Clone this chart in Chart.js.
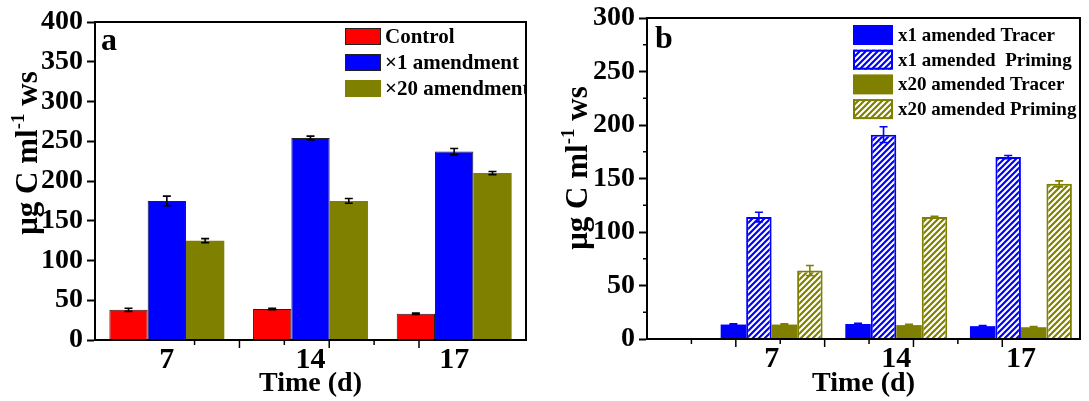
<!DOCTYPE html>
<html>
<head>
<meta charset="utf-8">
<script src="https://cdn.jsdelivr.net/npm/chart.js@4.4.1/dist/chart.umd.min.js"></script>
<style>
  html, body { margin: 0; padding: 0; background: #fff; }
  #wrap { position: relative; width: 1089px; height: 401px; overflow: hidden; background: #fff; }
  #chartA { position: absolute; left: 0; top: 0; }
  #chartB { position: absolute; left: 545px; top: 0; }
</style>
</head>
<body>
<div id="wrap">
  <canvas id="chartA" width="545" height="401"></canvas>
  <canvas id="chartB" width="544" height="401"></canvas>
</div>
<script>
// 时间点 (d)
const days = ['7', '14', '17'];

// 图 a：三组处理
const seriesA = ['Control', '×1 amendment', '×20 amendment'];
const controlVals = [38, 39, 33];
const controlErr = [2, 1, 1];
const x1Vals = [175, 254, 237];
const x1Err = [6, 2.5, 3.8];
const x20Vals = [125, 175, 210];
const x20Err = [2.5, 3, 2];
const yRangeA = [0, 400, 50];

// 图 b：Tracer / Priming
const seriesB = ['x1 amended Tracer', 'x1 amended  Priming', 'x20 amended Tracer', 'x20 amended Priming'];
const x1TracerVals = [13.5, 14, 12];
const x1TracerErr = [0.8, 0.6, 0.6];
const x1PrimingVals = [114, 191, 170];
const x1PrimingErr = [4.5, 7.3, 1.5];
const x20TracerVals = [13.5, 13, 11];
const x20TracerErr = [0.8, 0.8, 0.6];
const x20PrimingVals = [64, 114, 145];
const x20PrimingErr = [4.7, 0.6, 2.8];
const yRangeB = [0, 300, 50];

const RED = '#ff0000';
const BLUE = '#0000ff';
const OLIVE = '#808000';
const FONT = '"Liberation Serif", "Times New Roman", serif';

Chart.defaults.font.family = FONT;
Chart.defaults.font.weight = 'bold';
Chart.defaults.color = '#000';

// 斜线填充
function hatch(color) {
  const c = document.createElement('canvas');
  c.width = c.height = 6;
  const g = c.getContext('2d');
  g.fillStyle = '#fff';
  g.fillRect(0, 0, 6, 6);
  g.strokeStyle = color;
  g.lineWidth = 2.2;
  g.beginPath();
  g.moveTo(0, 6); g.lineTo(6, 0);
  g.moveTo(-3, 3); g.lineTo(3, -3);
  g.moveTo(3, 9); g.lineTo(9, 3);
  g.stroke();
  return g.createPattern(c, 'repeat');
}

// 误差线
const errorBars = {
  id: 'errorBars',
  afterDatasetsDraw(chart) {
    const ctx = chart.ctx;
    const y = chart.scales.y;
    chart.data.datasets.forEach((ds, i) => {
      if (!ds.errors) return;
      const meta = chart.getDatasetMeta(i);
      ctx.save();
      ctx.strokeStyle = ds.errorColor;
      ctx.lineWidth = 1.6;
      meta.data.forEach((bar, j) => {
        const v = meta.controller.getParsed(j).y;
        const e = ds.errors[j];
        const top = y.getPixelForValue(v + e);
        const bot = y.getPixelForValue(v - e);
        ctx.beginPath();
        ctx.moveTo(bar.x, top); ctx.lineTo(bar.x, bot);
        ctx.moveTo(bar.x - 4, top); ctx.lineTo(bar.x + 4, top);
        ctx.moveTo(bar.x - 4, bot); ctx.lineTo(bar.x + 4, bot);
        ctx.stroke();
      });
      ctx.restore();
    });
  }
};

// 图例 + 面板字母 + y 轴标题
const boxLegend = {
  id: 'boxLegend',
  afterDraw(chart, args, o) {
    const ctx = chart.ctx;
    const a = chart.chartArea;
    ctx.save();
    ctx.beginPath();
    ctx.rect(a.left, a.top, a.right - a.left, a.bottom - a.top);
    ctx.clip();
    ctx.font = 'bold ' + o.fontSize + 'px ' + FONT;
    ctx.textBaseline = 'middle';
    ctx.textAlign = 'left';
    chart.data.datasets.forEach((ds, i) => {
      const y = o.top + i * o.gap;
      ctx.fillStyle = ds.backgroundColor;
      ctx.fillRect(o.left, y, o.boxW, o.boxH);
      if (ds.borderWidth) {
        ctx.lineWidth = ds.borderWidth;
        ctx.strokeStyle = ds.borderColor;
        ctx.strokeRect(o.left + ds.borderWidth / 2, y + ds.borderWidth / 2, o.boxW - ds.borderWidth, o.boxH - ds.borderWidth);
      }
      ctx.fillStyle = '#000';
      ctx.fillText(ds.label, o.left + o.boxW + o.textGap, y + o.boxH / 2 + 1);
    });
    ctx.font = 'bold 32px ' + FONT;
    ctx.textBaseline = 'alphabetic';
    ctx.fillText(o.letter, o.letterX, o.letterY);
    ctx.restore();

    // μg C ml⁻¹ ws
    ctx.save();
    ctx.fillStyle = '#000';
    ctx.translate(o.titleX, o.titleY);
    ctx.rotate(-Math.PI / 2);
    const big = 'bold 31px ' + FONT, small = 'bold 19px ' + FONT;
    ctx.font = big;
    const w1 = ctx.measureText('μg C ml').width;
    const w3 = ctx.measureText(' ws').width;
    ctx.font = small;
    const w2 = ctx.measureText('-1').width;
    let x = -(w1 + w2 + w3) / 2;
    ctx.font = big; ctx.fillText('μg C ml', x, 0); x += w1;
    ctx.font = small; ctx.fillText('-1', x, -13); x += w2;
    ctx.font = big; ctx.fillText(' ws', x, 0);
    ctx.restore();
  }
};

// 边框和刻度
const frame = {
  id: 'frame',
  afterDraw(chart, args, o) {
    const { ctx, chartArea: a, scales } = chart;
    ctx.save();
    ctx.strokeStyle = '#000';
    ctx.lineWidth = 1.5;
    const xt = scales.xt;
    xt.ticks.forEach(t => {
      if (Math.abs(t.value - Math.round(t.value)) > 1e-6) return;
      const px = xt.getPixelForValue(t.value);
      if (px < a.left + 2 || px > a.right - 2) return;
      const len = Math.round(t.value) % 2 === 0 ? 8 : 5;
      ctx.beginPath();
      ctx.moveTo(px, a.bottom);
      ctx.lineTo(px, a.bottom + len);
      ctx.stroke();
    });
    if (o.minorY) {
      const y = scales.y;
      y.ticks.forEach((t, i) => {
        if (i === 0) return;
        const py = y.getPixelForValue((t.value + y.ticks[i - 1].value) / 2);
        ctx.beginPath();
        ctx.moveTo(a.left - 4, py);
        ctx.lineTo(a.left, py);
        ctx.stroke();
      });
    }
    ctx.lineWidth = 2;
    ctx.strokeRect(a.left, a.top, a.right - a.left, a.bottom - a.top);
    ctx.restore();
  }
};

function yAxis(range, width) {
  return {
    min: range[0], max: range[1],
    ticks: { stepSize: range[2], font: { size: 28, weight: 'bold', lineHeight: 1 }, padding: 4, color: '#000' },
    grid: { drawOnChartArea: false, tickLength: 8, tickColor: '#000', tickWidth: 2 },
    border: { color: '#000', width: 2 },
    afterFit: s => { s.width = width; }
  };
}

function xTitle() {
  return { display: true, text: 'Time (d)', font: { size: 28, weight: 'bold' }, color: '#000', padding: { top: 0, bottom: 0 } };
}

const xTickFont = { size: 30, weight: 'bold', lineHeight: 1.1 };

const common = {
  responsive: false,
  animation: false,
  devicePixelRatio: 1,
  events: []
};

// 图 a
new Chart(document.getElementById('chartA'), {
  type: 'bar',
  data: {
    labels: days,
    datasets: [
      { label: seriesA[0], data: controlVals, errors: controlErr, errorColor: '#000', backgroundColor: RED, borderColor: '#222', borderWidth: 1 },
      { label: seriesA[1], data: x1Vals, errors: x1Err, errorColor: '#000', backgroundColor: BLUE, borderColor: '#222', borderWidth: 1 },
      { label: seriesA[2], data: x20Vals, errors: x20Err, errorColor: '#000', backgroundColor: OLIVE, borderColor: OLIVE, borderWidth: 0 }
    ]
  },
  options: {
    ...common,
    layout: { padding: { top: 22, right: 19, left: 0, bottom: 0 } },
    datasets: { bar: { categoryPercentage: 0.8, barPercentage: 1.0 } },
    plugins: {
      legend: { display: false },
      tooltip: { enabled: false },
      boxLegend: { left: 345, top: 28, gap: 26, boxW: 36, boxH: 17, textGap: 4, fontSize: 21, letter: 'a', letterX: 101, letterY: 50, titleX: 37, titleY: 153 },
      frame: { minorY: false }
    },
    scales: {
      x: {
        offset: true,
        grid: { display: false, drawTicks: false },
        border: { color: '#000', width: 2 },
        ticks: { font: xTickFont, padding: 4, color: '#000' },
        title: xTitle(),
        afterFit: s => { s.height = 61; }
      },
      xt: { type: 'linear', display: false, min: -0.618, max: 7.784, ticks: { stepSize: 1 } },
      y: yAxis(yRangeA, 95)
    }
  },
  plugins: [errorBars, boxLegend, frame]
});

// 图 b
const xy = vals => vals.map((v, i) => ({ x: i + 1, y: v }));

new Chart(document.getElementById('chartB'), {
  type: 'bar',
  data: {
    datasets: [
      { label: seriesB[0], data: xy(x1TracerVals), errors: x1TracerErr, errorColor: BLUE, backgroundColor: BLUE, borderWidth: 0 },
      { label: seriesB[1], data: xy(x1PrimingVals), errors: x1PrimingErr, errorColor: BLUE, backgroundColor: hatch(BLUE), borderColor: BLUE, borderWidth: 2 },
      { label: seriesB[2], data: xy(x20TracerVals), errors: x20TracerErr, errorColor: OLIVE, backgroundColor: OLIVE, borderWidth: 0 },
      { label: seriesB[3], data: xy(x20PrimingVals), errors: x20PrimingErr, errorColor: OLIVE, backgroundColor: hatch(OLIVE), borderColor: OLIVE, borderWidth: 2 }
    ]
  },
  options: {
    ...common,
    layout: { padding: { top: 17, right: 9, left: 0, bottom: 0 } },
    datasets: { bar: { categoryPercentage: 0.818, barPercentage: 1.0 } },
    plugins: {
      legend: { display: false },
      tooltip: { enabled: false },
      boxLegend: { left: 308, top: 25, gap: 24.7, boxW: 40, boxH: 20, textGap: 5, fontSize: 19, letter: 'b', letterX: 110, letterY: 48, titleX: 42, titleY: 168 },
      frame: { minorY: true }
    },
    scales: {
      x: {
        type: 'linear',
        min: 0, max: 3.474,
        offset: false,
        afterBuildTicks: s => { s.ticks = days.map((d, i) => ({ value: i + 1 })); },
        grid: { display: false, drawTicks: false },
        border: { color: '#000', width: 2 },
        ticks: { font: xTickFont, padding: 4, color: '#000', callback: v => days[v - 1] },
        title: xTitle(),
        afterFit: s => { s.height = 62; }
      },
      xt: { type: 'linear', display: false, min: 0, max: 9.75, offset: false, ticks: { stepSize: 1 } },
      y: yAxis(yRangeB, 102)
    }
  },
  plugins: [errorBars, boxLegend, frame]
});
</script>
</body>
</html>
